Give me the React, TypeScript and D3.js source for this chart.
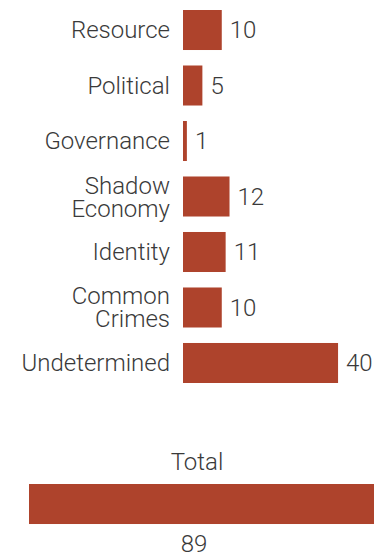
import React from "react";
import * as d3 from "d3";

const categories: string[][] = [
  ["Resource"],
  ["Political"],
  ["Governance"],
  ["Shadow", "Economy"],
  ["Identity"],
  ["Common", "Crimes"],
  ["Undetermined"],
];
const values: number[] = [10, 5, 1, 12, 11, 10, 40];
const totalLabel = "Total";
const totalValue = 89;

const W = 384;
const H = 556;
const COLOR = "#ae432c";
const TEXT = "#3a3a3a";
const FONT = "Roboto, 'Noto Sans', sans-serif";

export default function App() {
  const x = d3.scaleLinear().domain([0, totalValue]).range([0, 345]);
  const y = d3
    .scaleBand<number>()
    .domain(values.map((_, i) => i))
    .range([10, 383])
    .paddingInner(0.279)
    .paddingOuter(0);
  const barX = 183;
  const totalX = 29;
  const bh = y.bandwidth();
  const totalY = 484;
  const fs = 24;
  const off = 8.3;

  return (
    <svg
      width={W}
      height={H}
      style={{ position: "absolute", left: 0, top: 0, display: "block" }}
      fontFamily={FONT}
      fontWeight={300}
    >
      {values.map((v, i) => {
        const y0 = y(i)!;
        const cy = y0 + bh / 2;
        const lines = categories[i];
        return (
          <g key={i}>
            <rect x={barX} y={y0} width={x(v)} height={bh} fill={COLOR} />
            <text
              x={170}
              y={lines.length === 1 ? cy + off : cy - 3}
              textAnchor="end"
              fontSize={fs}
              fill={TEXT}
            >
              {lines.map((l, j) => (
                <tspan key={j} x={170} dy={j === 0 ? 0 : 23}>
                  {l}
                </tspan>
              ))}
            </text>
            <text
              x={barX + x(v) + 8}
              y={cy + off}
              fontSize={fs}
              fill={TEXT}
            >
              {v}
            </text>
          </g>
        );
      })}
      <text x={197} y={470} textAnchor="middle" fontSize={fs} fill={TEXT}>
        {totalLabel}
      </text>
      <rect x={totalX} y={totalY} width={x(totalValue)} height={bh} fill={COLOR} />
      <text x={194} y={552} textAnchor="middle" fontSize={fs} fill={TEXT}>
        {totalValue}
      </text>
    </svg>
  );
}
